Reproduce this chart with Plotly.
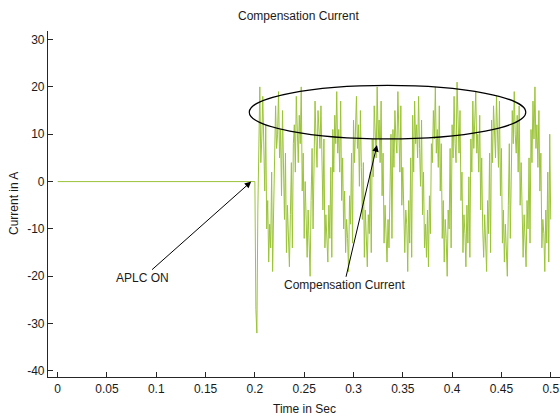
import numpy as np
import plotly.graph_objects as go

# ---- data -----------------------------------------------------------
t_off = [0.0, 0.2]
i_off = [0.0, 0.0]

t_on_start = 0.200
dt = 0.001

i_on = [
    0, -27, -32, -6, 14, 20, 4, 9, 18, 6, -2, 12, -10, -4, -17, -9, -14, 2, -19, -6,
    3, 16, 7, 10, 19, 5, 11, -3, 15, 1, -8, 6, -15, -5, -11, -18, -7, 4, -14, 8,
    12, 2, 18, 9, 4, 14, 8, 20, -2, 6, -12, 0, -9, -16, -6, -13, -20, -4, 7, -10,
    5, 17, 9, 3, 15, 10, 7, 16, 1, -6, 9, -14, -7, -11, -17, -5, -12, 3, -16, 11,
    2, 14, 8, 19, 6, 11, 2, 17, -4, 5, -10, -2, -15, -8, -12, -19, -3, -9, 6, -13,
    13, 4, 10, 18, 7, 12, -1, 15, 3, -8, 4, -16, -6, -12, -18, -7, -11, 2, -15, 9,
    1, 16, 8, 5, 20, 9, 13, 4, 17, -3, 6, -13, -5, -10, -17, -8, -14, -2, 10, -12,
    11, 3, 15, 9, 6, 19, 10, 2, 16, -5, 3, -11, -15, -6, -9, -19, -4, -13, 5, -16,
    14, 2, 17, 8, 12, 5, 18, 7, -1, 13, -7, 2, -14, -9, -16, -6, -18, -3, -11, 8,
    4, 15, 9, 20, 6, 11, 3, 16, -2, 8, -12, -4, -17, -8, -12, -20, -6, -10, 7, -14,
    12, 5, 18, 8, 4, 21, 10, 6, 15, -4, 2, -15, -7, -11, -18, -5, -13, 1, -16, 9,
    2, 17, 7, 13, 19, 6, 10, 2, 14, -6, 5, -10, -16, -7, -13, -19, -4, -11, 6, -15,
    13, 4, 16, 9, 5, 18, 11, 3, 17, -3, 7, -13, -6, -17, -9, -14, -20, -5, 8, -12,
    3, 15, 8, 19, 10, 6, 14, 2, 16, -5, 4, -11, -16, -7, -12, -18, -4, -10, 5, -13,
    11, 4, 17, 9, 20, 7, 12, 3, 15, -2, 6, -14, -8, -11, -19, -6, -13, 2, -17, 10,
    -8,
]
t_on = [round(t_on_start + k * dt, 4) for k in range(len(i_on))]

x_ticks = [0, 0.05, 0.1, 0.15, 0.2, 0.25, 0.3, 0.35, 0.4, 0.45, 0.5]
x_tick_text = ["0", "0.05", "0.1", "0.15", "0.2", "0.25", "0.3", "0.35", "0.4", "0.45", "0.5"]
y_ticks = [-40, -30, -20, -10, 0, 10, 20, 30]
y_tick_text = ["-40", "-30", "-20", "-10", "0", "10", "20", "30"]

LINE_COLOR = "#9CC43A"
TXT = "#1a1a1a"
FONT = "Liberation Sans, Arial, sans-serif"

# ---- figure ---------------------------------------------------------
fig = go.Figure()
fig.add_trace(go.Scatter(x=t_off + t_on, y=i_off + i_on, mode="lines",
                         line=dict(color=LINE_COLOR, width=1),
                         showlegend=False, hoverinfo="skip"))

fig.update_layout(
    width=560, height=417,
    margin=dict(l=48, r=0, t=31, b=40),
    paper_bgcolor="white", plot_bgcolor="white",
    font=dict(family=FONT, size=12, color=TXT),
    showlegend=False,
)
fig.update_xaxes(range=[-0.0098, 0.5094], tickvals=x_ticks, ticktext=x_tick_text,
                 showgrid=False, zeroline=False, showline=True, linecolor="#262626",
                 linewidth=1.2, ticks="inside", ticklen=5, tickcolor="#262626",
                 automargin=False, tickfont=dict(size=12, color=TXT))
fig.update_yaxes(range=[-41.27, 31.8], tickvals=y_ticks, ticktext=y_tick_text,
                 showgrid=False, zeroline=False, showline=True, linecolor="#262626",
                 linewidth=1.2, ticks="inside", ticklen=5, tickcolor="#262626",
                 automargin=False, tickfont=dict(size=12, color=TXT))

# titles as paper-positioned text
fig.add_annotation(text="Compensation Current", xref="paper", yref="paper",
                   x=0.49, y=1 + 15 / 346, xanchor="center", yanchor="middle",
                   showarrow=False, font=dict(size=12, color=TXT))
fig.add_annotation(text="Time in Sec", xref="paper", yref="paper",
                   x=0.5, y=-32 / 346, xanchor="center", yanchor="middle",
                   showarrow=False, font=dict(size=12, color=TXT))
fig.add_annotation(text="Current in A", xref="paper", yref="paper",
                   x=-34 / 512, y=0.5, xanchor="center", yanchor="middle", textangle=-90,
                   showarrow=False, font=dict(size=12, color=TXT))

# ellipse highlighting the compensation current
fig.add_shape(type="circle", xref="x", yref="y", x0=0.1943, x1=0.4747, y0=9.0, y1=20.3,
              line=dict(color="black", width=1.2))

fig.add_annotation(x=0.1963, y=0.0, ax=0.086, ay=-20.4, axref="x", ayref="y",
                   text="APLC ON", showarrow=True, arrowhead=2, arrowsize=1.3,
                   arrowwidth=1, arrowcolor="black", font=dict(size=12, color=TXT))
fig.add_annotation(x=0.3238, y=7.7, ax=0.2904, ay=-21.9, axref="x", ayref="y",
                   text="Compensation Current", showarrow=True, arrowhead=2, arrowsize=1.3,
                   arrowwidth=1, arrowcolor="black", font=dict(size=12, color=TXT))

fig.write_html("out.html", config={"displayModeBar": False},
               post_script="document.body.style.margin='0';")
